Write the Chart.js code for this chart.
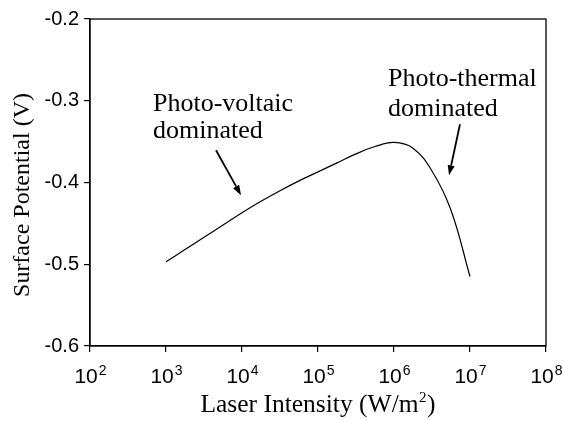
<!DOCTYPE html>
<html>
<head>
<meta charset="utf-8">
<title>Surface Potential</title>
<script src="https://cdn.jsdelivr.net/npm/chart.js@4"></script>
<style>
  html, body { margin: 0; padding: 0; background: #fff; }
</style>
</head>
<body>
<canvas id="chart-canvas" width="563" height="421"></canvas>
<script>
// Surface potential (V) against laser intensity (W/m^2)
const intensity = [1000, 1778, 3162, 5623, 10000, 17783, 31623, 56234, 100000,
  177828, 316228, 562341, 1000000, 1778279, 3162278, 5623413, 10000000];
const potential = [-0.497, -0.482, -0.467, -0.452, -0.437, -0.423, -0.410, -0.398, -0.387,
  -0.376, -0.365, -0.356, -0.351, -0.358, -0.386, -0.434, -0.515];

// Axis ticks
const xTickValues = [1e2, 1e3, 1e4, 1e5, 1e6, 1e7, 1e8];
const xTickExponents = ["2", "3", "4", "5", "6", "7", "8"];
const yTickValues = [-0.6, -0.5, -0.4, -0.3, -0.2];

// x title in three pieces: text, superscript, closing bracket
const xTitleParts = ["Laser Intensity (W/m", "2", ")"];
const yTitle = "Surface Potential (V)";

// Text notes and their arrows, placed in data coordinates
const notes = [
  { lines: ["Photo-voltaic", "dominated"], x: 675, y: -0.3125, lineHeight: 27 },
  { lines: ["Photo-thermal", "dominated"], x: 834000, y: -0.282, lineHeight: 30 },
];
const arrows = [
  { from: [4550, -0.3606], to: [9700, -0.4155] },
  { from: [7380000, -0.3288], to: [5300000, -0.3911] },
];

const SANS = '"Liberation Sans", Arial, sans-serif';
const SERIF = '"Liberation Serif", "Times New Roman", serif';

// Frame, x tick labels, axis titles and notes
const decorations = {
  id: "decorations",
  afterDraw(chart) {
    const { ctx, chartArea: area, scales } = chart;
    const xs = scales.x, ys = scales.y;
    ctx.save();

    ctx.strokeStyle = "#000";
    ctx.lineWidth = 1.3;
    ctx.strokeRect(area.left, area.top, area.right - area.left, area.bottom - area.top);

    // 10^n labels
    ctx.fillStyle = "#000";
    ctx.textBaseline = "alphabetic";
    ctx.textAlign = "left";
    xTickValues.forEach((v, i) => {
      const px = xs.getPixelForValue(v);
      ctx.font = "21px " + SANS;
      const wBase = ctx.measureText("10").width;
      ctx.font = "14px " + SANS;
      const wExp = ctx.measureText(xTickExponents[i]).width;
      const x0 = px - (wBase + wExp) / 2;
      ctx.font = "21px " + SANS;
      ctx.fillText("10", x0, area.bottom + 37);
      ctx.font = "14px " + SANS;
      ctx.fillText(xTickExponents[i], x0 + wBase + 1, area.bottom + 29);
    });

    // x title with a raised exponent
    const big = "25.5px " + SERIF, small = "15px " + SERIF;
    ctx.font = big;
    const w0 = ctx.measureText(xTitleParts[0]).width;
    const w2 = ctx.measureText(xTitleParts[2]).width;
    ctx.font = small;
    const w1 = ctx.measureText(xTitleParts[1]).width + 1;
    let tx = (area.left + area.right) / 2 - (w0 + w1 + w2) / 2;
    const ty = area.bottom + 66;
    ctx.font = big;
    ctx.fillText(xTitleParts[0], tx, ty);
    ctx.font = small;
    ctx.fillText(xTitleParts[1], tx + w0 + 0.5, ty - 10);
    ctx.font = big;
    ctx.fillText(xTitleParts[2], tx + w0 + w1, ty);

    // y title
    ctx.font = "24px " + SERIF;
    ctx.save();
    ctx.translate(23, 195);
    ctx.rotate(-Math.PI / 2);
    ctx.textAlign = "center";
    ctx.textBaseline = "middle";
    ctx.fillText(yTitle, 0, 0);
    ctx.restore();

    // notes
    ctx.font = "26px " + SERIF;
    ctx.textAlign = "left";
    ctx.textBaseline = "alphabetic";
    notes.forEach((n) => {
      const px = xs.getPixelForValue(n.x);
      const py = ys.getPixelForValue(n.y);
      n.lines.forEach((t, k) => ctx.fillText(t, px, py + k * n.lineHeight));
    });

    // arrows
    arrows.forEach((a) => {
      const x1 = xs.getPixelForValue(a.from[0]), y1 = ys.getPixelForValue(a.from[1]);
      const x2 = xs.getPixelForValue(a.to[0]), y2 = ys.getPixelForValue(a.to[1]);
      const ang = Math.atan2(y2 - y1, x2 - x1);
      const head = 10, half = 3.5;
      const bx = x2 - head * Math.cos(ang), by = y2 - head * Math.sin(ang);
      ctx.lineWidth = 1.8;
      ctx.beginPath();
      ctx.moveTo(x1, y1);
      ctx.lineTo(bx, by);
      ctx.stroke();
      ctx.beginPath();
      ctx.moveTo(x2, y2);
      ctx.lineTo(bx + half * Math.sin(ang), by - half * Math.cos(ang));
      ctx.lineTo(bx - half * Math.sin(ang), by + half * Math.cos(ang));
      ctx.closePath();
      ctx.fill();
    });

    ctx.restore();
  },
};

const ctx = document.getElementById("chart-canvas").getContext("2d");
const myChart = new Chart(ctx, {
  type: "line",
  data: {
    datasets: [
      {
        data: intensity.map((v, i) => ({ x: v, y: potential[i] })),
        borderColor: "#000",
        borderWidth: 1.2,
        pointRadius: 0,
        fill: false,
        tension: 0.4,
      },
    ],
  },
  options: {
    responsive: false,
    animation: false,
    layout: { padding: { top: 19, right: 17, left: 0, bottom: 0 } },
    plugins: {
      legend: { display: false },
      tooltip: { enabled: false },
    },
    scales: {
      x: {
        type: "logarithmic",
        min: 1e2,
        max: 1e8,
        afterBuildTicks: (scale) => {
          scale.ticks = xTickValues.map((v) => ({ value: v }));
        },
        afterFit: (scale) => {
          scale.height = 75;
        },
        ticks: { display: false },
        grid: { drawOnChartArea: false, tickLength: 6, color: "#000", lineWidth: 1.2 },
        border: { color: "#000", width: 1.3 },
      },
      y: {
        min: -0.6,
        max: -0.2,
        afterBuildTicks: (scale) => {
          scale.ticks = yTickValues.map((v) => ({ value: v }));
        },
        afterFit: (scale) => {
          scale.width = 90;
        },
        ticks: {
          color: "#000",
          padding: 5,
          font: { family: SANS, size: 20 },
          callback: (v) => Number(v).toFixed(1),
        },
        grid: { drawOnChartArea: false, tickLength: 6, color: "#000", lineWidth: 1.2 },
        border: { color: "#000", width: 1.3 },
      },
    },
  },
  plugins: [decorations],
});
</script>
</body>
</html>
